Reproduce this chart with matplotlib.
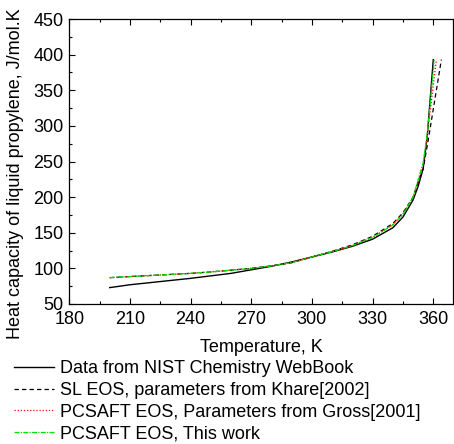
import matplotlib
matplotlib.use("Agg")
import matplotlib.pyplot as plt
from matplotlib.ticker import MultipleLocator

plt.rcParams["font.family"] = ["Liberation Sans", "DejaVu Sans"]

# data
t_nist = [200, 210, 220, 230, 240, 250, 260, 270, 280, 290, 300, 310, 320, 330, 340, 345, 350, 352.5, 355, 357, 360]
cp_nist = [73, 77, 80, 83, 86, 89.5, 93, 98, 103, 109, 116, 123, 131, 141, 157, 172, 196, 215, 240, 285, 393]

t_sl = [200, 210, 220, 230, 240, 250, 260, 270, 280, 290, 300, 310, 320, 330, 340, 345, 350, 355, 357.5, 364]
cp_sl = [87, 88.5, 90, 91.5, 93, 95, 97.5, 100, 103.5, 108, 116, 124, 133, 145, 163, 178, 200, 240, 280, 393]

t_gross = [200, 210, 220, 230, 240, 250, 260, 270, 280, 290, 300, 310, 320, 330, 340, 345, 350, 355, 357, 361.5]
cp_gross = [87, 88.5, 90, 91.5, 93, 95, 97.5, 100, 103.5, 108, 116, 123.5, 132, 143.5, 161, 176, 200, 246, 285, 393]

t_this = [200, 210, 220, 230, 240, 250, 260, 270, 280, 290, 300, 310, 320, 330, 340, 345, 350, 355, 357, 360.5]
cp_this = [87, 88.5, 90, 91.5, 93, 95, 97.5, 100, 103.5, 108, 116, 123.5, 132, 143.5, 161, 176, 200, 248, 288, 393]

labels = ["Data from NIST Chemistry WebBook",
          "SL EOS, parameters from Khare[2002]",
          "PCSAFT EOS, Parameters from Gross[2001]",
          "PCSAFT EOS, This work"]

fs = 13

fig = plt.figure(figsize=(4.54, 4.44), dpi=100)
ax = fig.add_axes([69.3/454, 140/444, (453.5-69.3)/454, 285/444])

ax.plot(t_nist, cp_nist, color="black", lw=1.0, ls="-", label=labels[0])
ax.plot(t_sl, cp_sl, color="black", lw=0.9, ls=(0, (3.5, 2.5)), label=labels[1])
ax.plot(t_gross, cp_gross, color="red", lw=0.9, ls=(0, (1, 1.5)), label=labels[2])
ax.plot(t_this, cp_this, color="#00e000", lw=0.9, ls=(0, (4, 1, 1, 1)), label=labels[3])

ax.set_xlim(180, 370)
ax.set_ylim(50, 450)
ax.xaxis.set_major_locator(MultipleLocator(30))
ax.xaxis.set_minor_locator(MultipleLocator(15))
ax.yaxis.set_major_locator(MultipleLocator(50))
ax.yaxis.set_minor_locator(MultipleLocator(25))
ax.tick_params(which="both", direction="in", top=True, right=False, labelsize=fs)
ax.tick_params(axis="x", pad=5)
ax.tick_params(axis="y", pad=4)
ax.tick_params(which="major", length=4.5, width=0.8)
ax.tick_params(which="minor", length=2.5, width=0.8)
for s in ax.spines.values():
    s.set_linewidth(0.9)

ax.set_xlabel("Temperature, K", fontsize=fs)
ax.xaxis.set_label_coords(0.5, -(348 - 304) / 285, transform=ax.transAxes)
ax.xaxis.label.set_va("center")
ax.set_ylabel("Heat capacity of liquid propylene, J/mol.K", fontsize=fs)
ax.yaxis.set_label_coords((15.7 - 69.3) / 384.2, (304 - 174) / 285)
ax.yaxis.label.set_va("center")

fig.legend(loc="upper left", bbox_to_anchor=(14/454, 1-360/444), frameon=False,
           fontsize=fs, handlelength=2.2, handletextpad=0.33, labelspacing=0.27,
           borderpad=0, borderaxespad=0)

fig.savefig("out.png", dpi=100)
